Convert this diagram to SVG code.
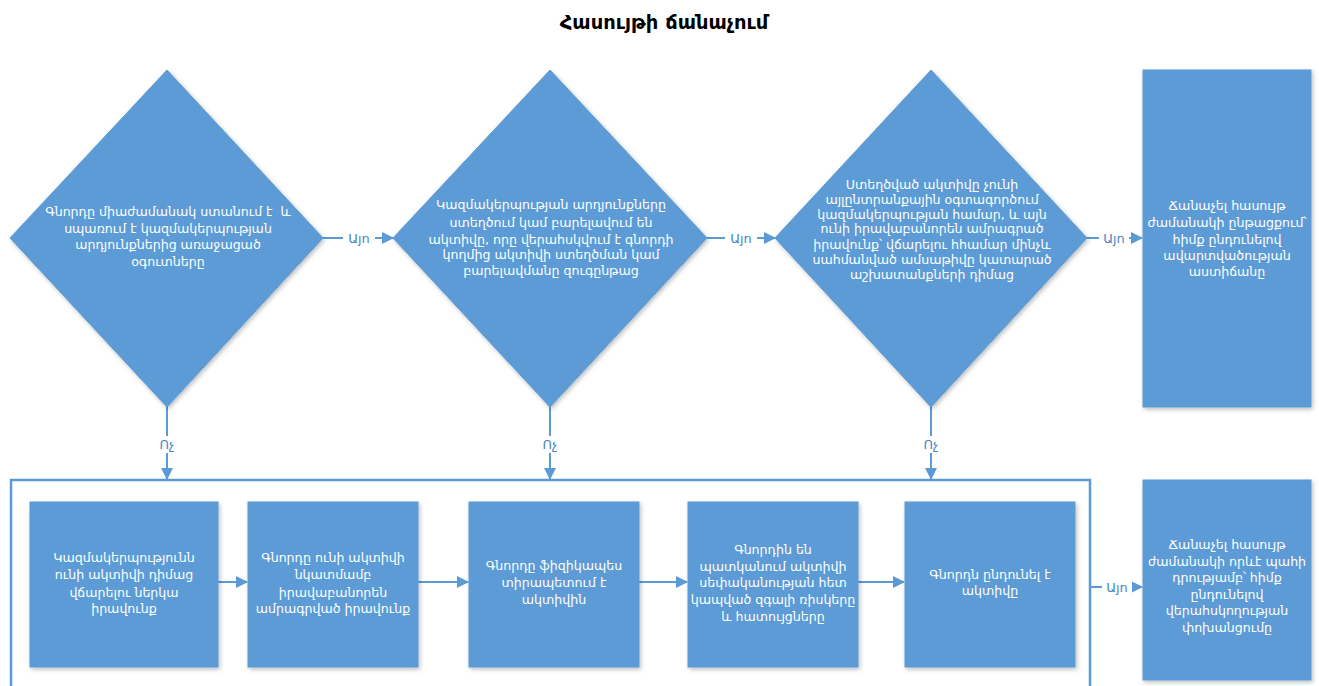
<svg xmlns="http://www.w3.org/2000/svg" width="1319" height="686" viewBox="0 0 1319 686">
<defs>
<style>
.shape{fill:#5B9BD5;stroke:#5B9BD5;stroke-width:1;filter:url(#sh)}
.t{font-family:"DejaVu Sans","Noto Sans",sans-serif;font-size:12.6px;fill:#ffffff;text-anchor:middle}
.c{stroke:#5B9BD5;stroke-width:2;fill:none}
.lbl{font-family:"DejaVu Sans","Noto Sans",sans-serif;font-size:13px;fill:#4A86C5;text-anchor:middle}
.bg{fill:#ffffff}
.title{font-family:"DejaVu Sans","Noto Sans",sans-serif;font-size:19.5px;font-weight:bold;fill:#000;text-anchor:middle}
</style>
<filter id="sh" x="-10%" y="-10%" width="120%" height="120%">
<feDropShadow dx="1.5" dy="2" stdDeviation="2" flood-color="#000" flood-opacity="0.25"/>
</filter>
<marker id="ah" markerWidth="12" markerHeight="12" refX="11" refY="6" orient="auto" markerUnits="userSpaceOnUse" viewBox="0 0 12 12">
<path d="M0,0 L12,6 L0,12 z" fill="#5B9BD5"/>
</marker>
</defs>
<rect width="1319" height="686" fill="#ffffff"/>
<text class="title" x="664" y="29">Հասույթի ճանաչում</text>

<g id="connectors">
<line class="c" x1="323" y1="238" x2="393" y2="238" marker-end="url(#ah)"/>
<rect class="bg" x="343" y="229" width="32" height="18"/>
<text class="lbl" x="359" y="243">Այո</text>
<line class="c" x1="707" y1="238" x2="775" y2="238" marker-end="url(#ah)"/>
<rect class="bg" x="725" y="229" width="32" height="18"/>
<text class="lbl" x="741" y="243">Այո</text>
<line class="c" x1="1087" y1="238" x2="1142" y2="238" marker-end="url(#ah)"/>
<rect class="bg" x="1099" y="229" width="30" height="18"/>
<text class="lbl" x="1114" y="243">Այո</text>
<line class="c" x1="167" y1="407" x2="167" y2="479" marker-end="url(#ah)"/>
<rect class="bg" x="157" y="436" width="20" height="17"/>
<text class="lbl" x="167" y="449">Ոչ</text>
<line class="c" x1="550" y1="407" x2="550" y2="479" marker-end="url(#ah)"/>
<rect class="bg" x="540" y="436" width="20" height="17"/>
<text class="lbl" x="550" y="449">Ոչ</text>
<line class="c" x1="931" y1="407" x2="931" y2="479" marker-end="url(#ah)"/>
<rect class="bg" x="921" y="436" width="20" height="17"/>
<text class="lbl" x="931" y="449">Ոչ</text>
<line class="c" x1="218" y1="582" x2="247" y2="582" marker-end="url(#ah)"/>
<line class="c" x1="418" y1="582" x2="468" y2="582" marker-end="url(#ah)"/>
<line class="c" x1="639" y1="582" x2="687" y2="582" marker-end="url(#ah)"/>
<line class="c" x1="858" y1="582" x2="904" y2="582" marker-end="url(#ah)"/>
<line class="c" x1="1090" y1="587" x2="1142" y2="587" marker-end="url(#ah)"/>
<rect class="bg" x="1102" y="578" width="30" height="18"/>
<text class="lbl" x="1117" y="592">Այո</text>
</g>

<g id="container">
<rect x="11" y="480" width="1079" height="220" fill="none" stroke="#5B9BD5" stroke-width="2.5"/>
</g>

<g id="d1">
<polygon class="shape" points="167,70 323,238 167,407 10,238"/>
<text class="t"><tspan x="168" y="216">Գնորդը միաժամանակ ստանում է&#160; և</tspan><tspan x="168" y="233">սպառում է կազմակերպության</tspan><tspan x="168" y="249">արդյունքներից առաջացած</tspan><tspan x="168" y="266">օգուտները</tspan></text>
</g>

<g id="d2">
<polygon class="shape" points="550,70 707,238 550,407 393,238"/>
<text class="t"><tspan x="551" y="209">Կազմակերպության արդյունքները</tspan><tspan x="551" y="227">ստեղծում կամ բարելավում են</tspan><tspan x="551" y="244">ակտիվը, որը վերահսկվում է գնորդի</tspan><tspan x="551" y="259">կողմից ակտիվի ստեղծման կամ</tspan><tspan x="551" y="275">բարելավմանը զուգընթաց</tspan></text>
</g>

<g id="d3">
<polygon class="shape" points="931,70 1087,238 931,407 775,238"/>
<text class="t"><tspan x="932" y="189">Ստեղծված ակտիվը չունի</tspan><tspan x="932" y="204">այլընտրանքային օգտագործում</tspan><tspan x="932" y="219">կազմակերպության համար, և այն</tspan><tspan x="932" y="233">ունի իրավաբանորեն ամրագրած</tspan><tspan x="932" y="249">իրավունք՝ վճարելու հհամար մինչև</tspan><tspan x="932" y="264">սահմանված ամսաթիվը կատարած</tspan><tspan x="932" y="279">աշխատանքների դիմաց</tspan></text>
</g>

<g id="r1">
<rect class="shape" x="1143" y="70" width="168" height="337"/>
<text class="t"><tspan x="1227" y="210">Ճանաչել հասույթ</tspan><tspan x="1227" y="227">ժամանակի ընթացքում՝</tspan><tspan x="1227" y="244">հիմք ընդունելով</tspan><tspan x="1227" y="260">ավարտվածության</tspan><tspan x="1227" y="276">աստիճանը</tspan></text>
</g>

<g id="b1">
<rect class="shape" x="30" y="502" width="188" height="165"/>
<text class="t"><tspan x="124" y="562">Կազմակերպությունն</tspan><tspan x="124" y="579">ունի ակտիվի դիմաց</tspan><tspan x="124" y="597">վճարելու ներկա</tspan><tspan x="124" y="613">իրավունք</tspan></text>
</g>

<g id="b2">
<rect class="shape" x="248" y="502" width="170" height="165"/>
<text class="t"><tspan x="333" y="562">Գնորդը ունի ակտիվի</tspan><tspan x="333" y="579">նկատմամբ</tspan><tspan x="333" y="597">իրավաբանորեն</tspan><tspan x="333" y="613">ամրագրված իրավունք</tspan></text>
</g>

<g id="b3">
<rect class="shape" x="469" y="502" width="170" height="165"/>
<text class="t"><tspan x="554" y="570">Գնորդը ֆիզիկապես</tspan><tspan x="554" y="587">տիրապետում է</tspan><tspan x="554" y="604">ակտիվին</tspan></text>
</g>

<g id="b4">
<rect class="shape" x="688" y="502" width="170" height="165"/>
<text class="t"><tspan x="773" y="554">Գնորդին են</tspan><tspan x="773" y="571">պատկանում ակտիվի</tspan><tspan x="773" y="587">սեփականության հետ</tspan><tspan x="773" y="604">կապված զգալի ռիսկերը</tspan><tspan x="773" y="621">և հատույցները</tspan></text>
</g>

<g id="b5">
<rect class="shape" x="905" y="502" width="170" height="165"/>
<text class="t"><tspan x="990" y="579">Գնորդն ընդունել է</tspan><tspan x="990" y="595">ակտիվը</tspan></text>
</g>

<g id="r2">
<rect class="shape" x="1143" y="480" width="168" height="200"/>
<text class="t"><tspan x="1227" y="549">Ճանաչել հասույթ</tspan><tspan x="1227" y="566">ժամանակի որևէ պահի</tspan><tspan x="1227" y="582">դրությամբ՝ հիմք</tspan><tspan x="1227" y="599">ընդունելով</tspan><tspan x="1227" y="615">վերահսկողության</tspan><tspan x="1227" y="632">փոխանցումը</tspan></text>
</g>
</svg>
